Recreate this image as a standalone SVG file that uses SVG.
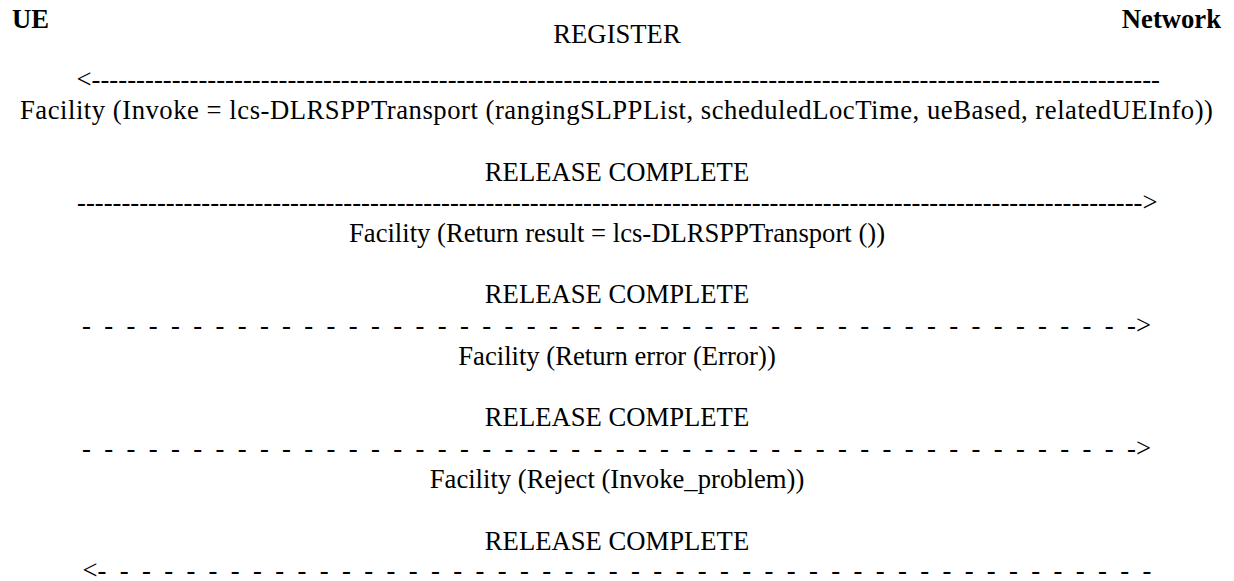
<svg xmlns="http://www.w3.org/2000/svg" width="1234" height="581" viewBox="0 0 1234 581">
<style>
text{font-family:"Liberation Serif","Times New Roman",serif;font-size:26.67px;fill:#000}
.b{font-weight:bold}
.c{text-anchor:middle}
.d{white-space:pre}
</style>
<rect width="1234" height="581" fill="#fff"/>
<g id="ue"><text class="b" x="12" y="28">UE</text></g>
<g id="network"><text class="b" x="1221" y="28" text-anchor="end">Network</text></g>
<g id="messages">
<text class="c" x="617" y="43">REGISTER</text>
<text x="20" y="119" textLength="1193" lengthAdjust="spacing">Facility (Invoke = lcs-DLRSPPTransport (rangingSLPPList, scheduledLocTime, ueBased, relatedUEInfo))</text>
<text class="c" x="617" y="180.5">RELEASE COMPLETE</text>
<text class="c" x="617" y="242">Facility (Return result = lcs-DLRSPPTransport ())</text>
<text class="c" x="617" y="302.5">RELEASE COMPLETE</text>
<text class="c" x="617" y="364.5">Facility (Return error (Error))</text>
<text class="c" x="617" y="426">RELEASE COMPLETE</text>
<text class="c" x="617" y="487.5">Facility (Reject (Invoke_problem))</text>
<text class="c" x="617" y="549.5">RELEASE COMPLETE</text>
</g>
<g id="connectors">
<text x="76.5" y="88" textLength="1083.5" lengthAdjust="spacing">&lt;------------------------------------------------------------------------------------------------------------------------</text>
<text x="77" y="210.5" textLength="1080.5" lengthAdjust="spacing">------------------------------------------------------------------------------------------------------------------------&gt;</text>
<text class="d" xml:space="preserve" x="82" y="334" textLength="1069" lengthAdjust="spacing">-  -  -  -  -  -  -  -  -  -  -  -  -  -  -  -  -  -  -  -  -  -  -  -  -  -  -  -  -  -  -  -  -  -  -  -  -  -  -  -  -  -  -  -  -  -  -  -&gt;</text>
<text class="d" xml:space="preserve" x="82" y="457" textLength="1069" lengthAdjust="spacing">-  -  -  -  -  -  -  -  -  -  -  -  -  -  -  -  -  -  -  -  -  -  -  -  -  -  -  -  -  -  -  -  -  -  -  -  -  -  -  -  -  -  -  -  -  -  -  -&gt;</text>
<text class="d" xml:space="preserve" x="82.4" y="578.5" textLength="1069" lengthAdjust="spacing">&lt;-  -  -  -  -  -  -  -  -  -  -  -  -  -  -  -  -  -  -  -  -  -  -  -  -  -  -  -  -  -  -  -  -  -  -  -  -  -  -  -  -  -  -  -  -  -  -  -</text>
</g>
</svg>
